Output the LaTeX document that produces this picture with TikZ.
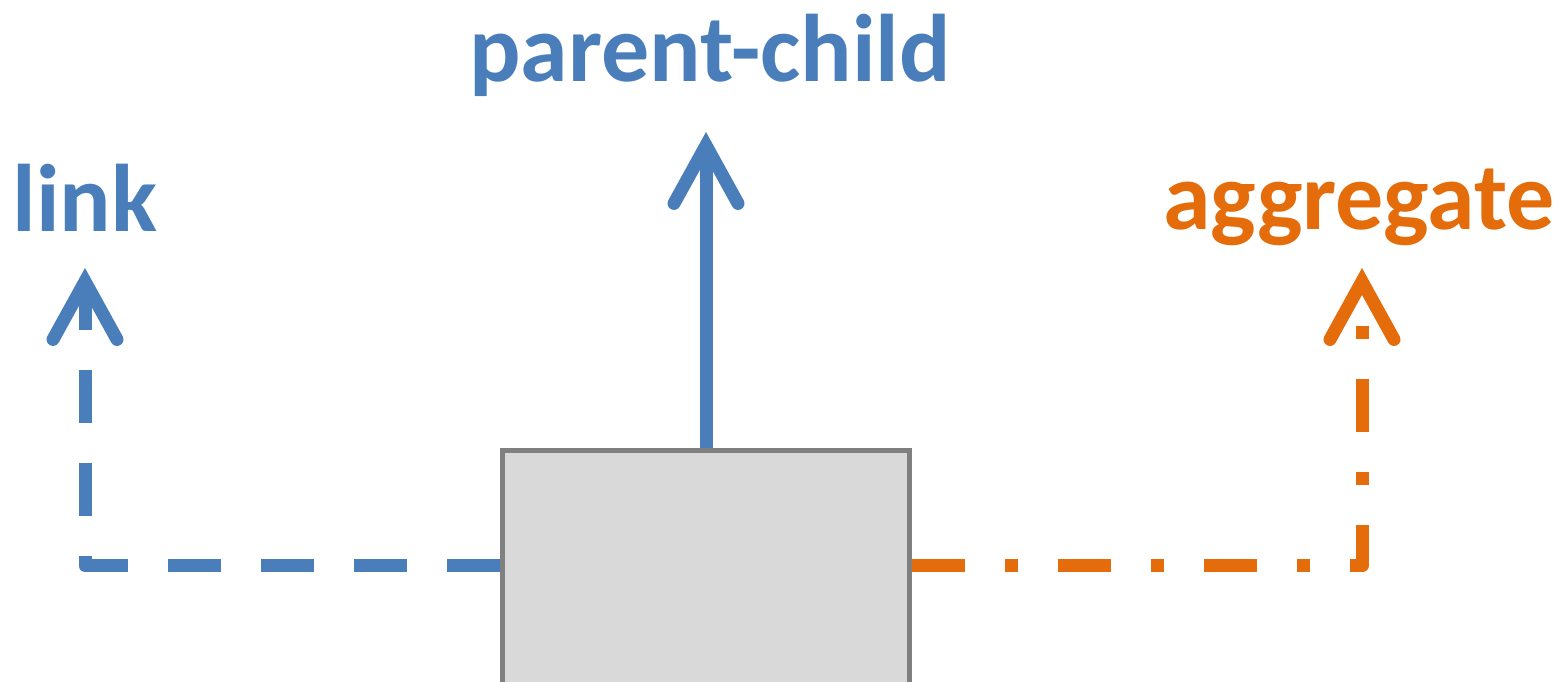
\documentclass[tikz,border=0pt]{standalone}
\usepackage{fontspec}
\setmainfont{Carlito}
\usetikzlibrary{arrows.meta}
\definecolor{relblue}{RGB}{74,126,187}
\definecolor{relorange}{RGB}{228,108,10}
\definecolor{objfill}{RGB}{217,217,217}
\definecolor{objline}{RGB}{128,128,128}
\begin{document}
\begin{tikzpicture}[x=1pt,y=1pt]

        \useasboundingbox (0,0) rectangle (1558,682);

        \begin{scope}[every node/.style={font=\fontsize{96}{96}\selectfont\bfseries, inner sep=0pt, anchor=base}]
          \node[text=relblue]   (pc) at (710,600)  {parent-child};
          \node[text=relblue]   (lk) at (85,450)   {link};
          \node[text=relorange] (ag) at (1359,452) {aggregate};
        \end{scope}

        \node[draw=objline, fill=objfill, line width=5pt, minimum width=407pt,
              minimum height=250pt, inner sep=0pt, outer sep=2.5pt] (obj) at (706,106.5) {};

        \coordinate (lkc) at (85,116);
        \coordinate (lkt) at (85,414);
        \coordinate (pct) at (706,550);
        \coordinate (agc) at (1362,116);
        \coordinate (agt) at (1362,414);

        \begin{scope}[line width=13pt, line join=round,
                      -{Straight Barb[length=58pt,width=64pt,line cap=round,line join=miter]}]
          \draw[relblue, dash pattern=on 53pt off 40pt] (lkc -| obj.west) -- (lkc) -- (lkt);
          \draw[relblue] (obj.north) -- (pct);
          \draw[relorange, dash pattern=on 53pt off 40pt on 13pt off 40pt] (agc -| obj.east) -- (agc) -- (agt);
        \end{scope}

      \end{tikzpicture}
\end{document}
